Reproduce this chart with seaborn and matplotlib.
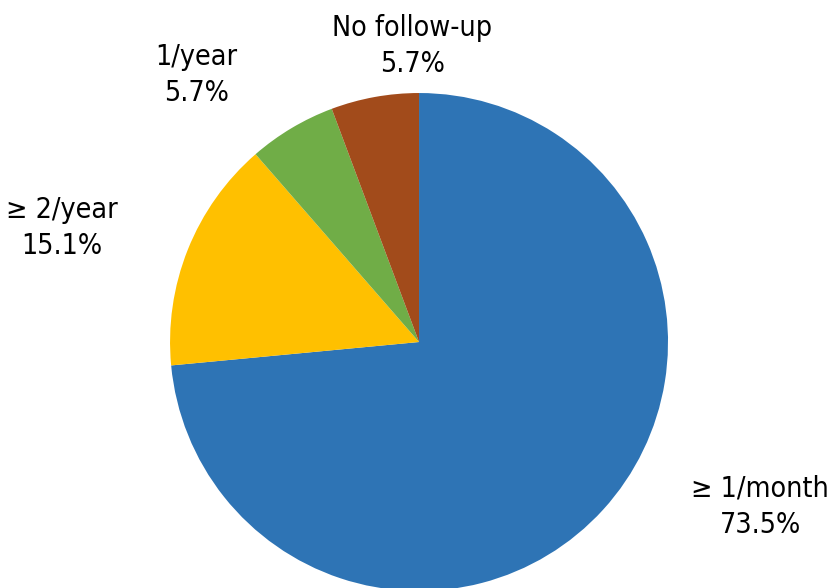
import matplotlib
matplotlib.use('Agg')
import matplotlib.pyplot as plt
import seaborn as sns

# Data
categories = ['≥ 1/month', '≥ 2/year', '1/year', 'No follow-up']
shares = [73.5, 15.1, 5.7, 5.7]

sns.set_theme(style='white')
plt.rcParams['font.family'] = ['DejaVu Sans']

colors = ['#2E74B5', '#FFC000', '#70AD47', '#A24B1B']

fig = plt.figure(figsize=(8.4, 5.88), dpi=100)
ax = fig.add_axes([0.2024, -0.0051, 0.5929, 0.8469])

ax.pie(shares, colors=colors, startangle=90, counterclock=False,
       wedgeprops=dict(linewidth=0))
ax.set_xlim(-1, 1)
ax.set_ylim(-1, 1)
ax.set_aspect('equal')
ax.axis('off')

# label placement (figure pixels, centre of text block)
label_pos = [(760, 507), (62, 228), (196, 75), (412, 46)]
for cat, val, (px, py) in zip(categories, shares, label_pos):
    fig.text(px / 840, 1 - py / 588, f'{cat}\n{val}%', ha='center', va='center',
             fontsize=20.5, fontstretch='condensed', linespacing=1.4, color='black')

fig.savefig('out.png', dpi=100)
